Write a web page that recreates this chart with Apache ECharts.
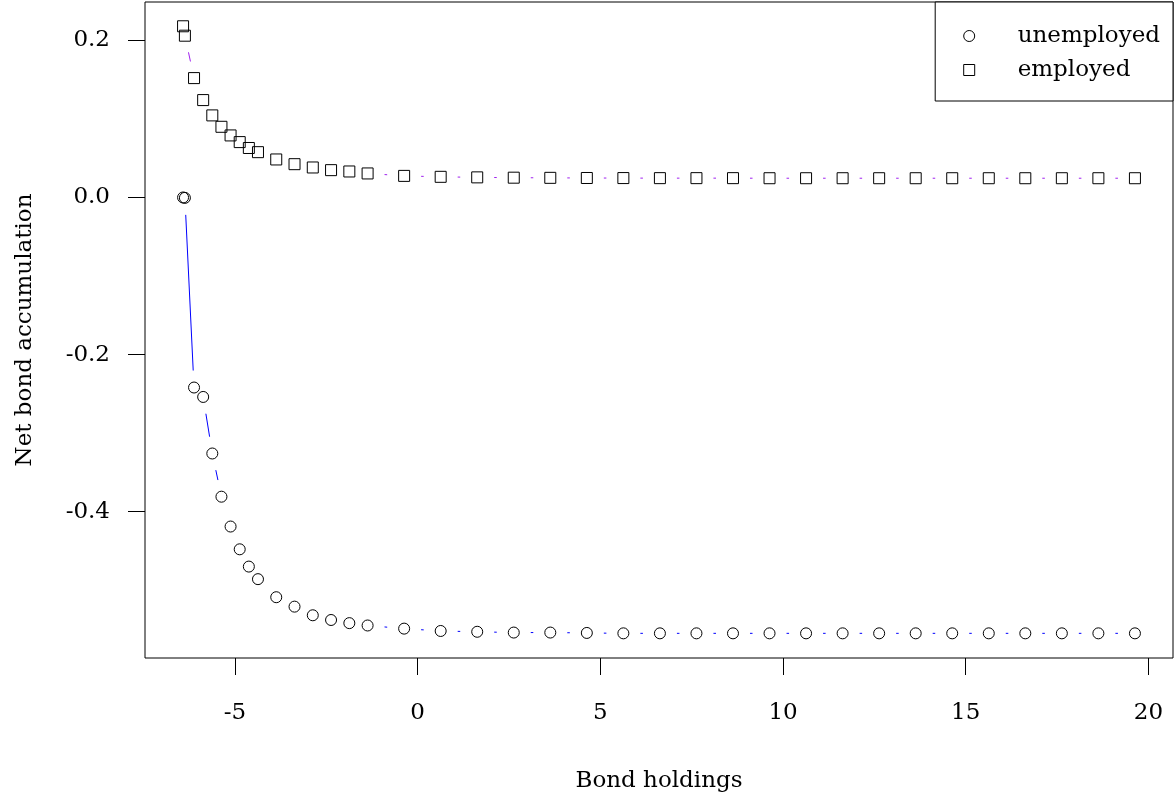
<!DOCTYPE html>
<html>
<head>
<meta charset="utf-8">
<script src="https://cdn.jsdelivr.net/npm/echarts@6/dist/echarts.min.js"></script>
<style>
html,body{margin:0;padding:0;background:#fff;}
#chart{width:1175px;height:800px;}
</style>
</head>
<body>
<div id="chart"></div>
<script>
// ---- data ----
const bondHoldings = [-6.42, -6.37, -6.12, -5.87, -5.62, -5.37, -5.12, -4.87, -4.62, -4.37,
  -3.87, -3.37, -2.87, -2.37, -1.87, -1.37, -0.37, 0.63, 1.63, 2.63, 3.63, 4.63, 5.63, 6.63,
  7.63, 8.63, 9.63, 10.63, 11.63, 12.63, 13.63, 14.63, 15.63, 16.63, 17.63, 18.63, 19.63];
const unemployed = [0.000, -0.0005, -0.242, -0.254, -0.326, -0.381, -0.419, -0.448, -0.470, -0.486,
  -0.509, -0.521, -0.532, -0.538, -0.542, -0.545, -0.549, -0.552, -0.553, -0.554, -0.554, -0.5545,
  -0.555, -0.555, -0.555, -0.555, -0.555, -0.555, -0.555, -0.555, -0.555, -0.555, -0.555, -0.555,
  -0.555, -0.555, -0.555];
const employed = [0.218, 0.206, 0.152, 0.124, 0.1045, 0.090, 0.079, 0.0705, 0.063, 0.0577,
  0.0484, 0.0424, 0.0382, 0.0348, 0.0331, 0.0306, 0.0275, 0.0263, 0.0256, 0.0252, 0.0250, 0.0248,
  0.0247, 0.0246, 0.0246, 0.0246, 0.0245, 0.0245, 0.0245, 0.0245, 0.0245, 0.0245, 0.0245, 0.0245,
  0.0245, 0.0245, 0.0245];
const seriesNames = ['unemployed', 'employed'];
const xTicks = [-5, 0, 5, 10, 15, 20];
const yTicks = [-0.4, -0.2, 0.0, 0.2];
const xTitle = 'Bond holdings';
const yTitle = 'Net bond accumulation';

// ---- build chart ----
const FONT = 'DejaVu Serif';
const FS = 23;
function points(xs, ys) { return xs.map((x, i) => [x, ys[i]]); }
function segments(xs, ys) {
  const out = [];
  for (let i = 0; i < xs.length - 1; i++) out.push([xs[i], ys[i], xs[i + 1], ys[i + 1]]);
  return out;
}
function gapLine(color) {
  const GAP = 17;
  return function (params, api) {
    const a = api.coord([api.value(0), api.value(1)]);
    const b = api.coord([api.value(2), api.value(3)]);
    const dx = b[0] - a[0], dy = b[1] - a[1];
    const d = Math.hypot(dx, dy);
    if (d <= 2 * GAP) return { type: 'group', children: [] };
    const ux = dx / d, uy = dy / d;
    return {
      type: 'line',
      shape: { x1: a[0] + ux * GAP, y1: a[1] + uy * GAP, x2: b[0] - ux * GAP, y2: b[1] - uy * GAP },
      style: { stroke: color, lineWidth: 1 }
    };
  };
}

const chart = echarts.init(document.getElementById('chart'), null, { renderer: 'canvas' });
const option = {
  backgroundColor: '#fff',
  animation: false,
  grid: { left: 145, right: 2, top: 2, bottom: 142, show: true, borderColor: '#000', borderWidth: 1, backgroundColor: 'transparent' },
  xAxis: {
    type: 'value', min: -7.462, max: 20.672,
    name: xTitle, nameLocation: 'middle', nameGap: 112,
    nameTextStyle: { fontFamily: FONT, fontSize: FS, color: '#000' },
    axisLine: { show: false, onZero: false },
    axisTick: { show: true, inside: false, length: 17, customValues: xTicks, lineStyle: { color: '#000', width: 1 } },
    axisLabel: { customValues: xTicks, margin: 44, fontFamily: FONT, fontSize: FS, color: '#000', formatter: v => String(v) },
    splitLine: { show: false }
  },
  yAxis: {
    type: 'value', min: -0.5864, max: 0.2489,
    name: yTitle, nameLocation: 'middle', nameGap: 108, nameRotate: 90,
    nameTextStyle: { fontFamily: FONT, fontSize: FS, color: '#000' },
    axisLine: { show: false, onZero: false },
    axisTick: { show: true, inside: false, length: 17, customValues: yTicks, lineStyle: { color: '#000', width: 1 } },
    axisLabel: { customValues: yTicks, margin: 35, fontFamily: FONT, fontSize: FS, color: '#000', formatter: v => v.toFixed(1) },
    splitLine: { show: false }
  },
  legend: {
    orient: 'vertical', top: 2, right: 2,
    padding: [17, 13, 14, 28],
    itemWidth: 11, itemHeight: 11, itemGap: 0,
    selectedMode: false,
    borderColor: '#000', borderWidth: 1, backgroundColor: '#fff',
    textStyle: { fontFamily: FONT, fontSize: FS, color: '#000', lineHeight: 34, padding: [0, 0, 0, 38] },
    itemStyle: { color: 'rgba(0,0,0,0)', borderColor: '#000', borderWidth: 1 },
    data: [
      { name: seriesNames[0], icon: 'circle' },
      { name: seriesNames[1], icon: 'rect' }
    ]
  },
  series: [
    {
      type: 'custom', name: seriesNames[0] + ' line', silent: true, clip: true,
      data: segments(bondHoldings, unemployed),
      encode: { x: [0, 2], y: [1, 3] },
      renderItem: gapLine('#0000FF')
    },
    {
      type: 'custom', name: seriesNames[1] + ' line', silent: true, clip: true,
      data: segments(bondHoldings, employed),
      encode: { x: [0, 2], y: [1, 3] },
      renderItem: gapLine('#A020F0')
    },
    {
      type: 'scatter', name: seriesNames[0], silent: true,
      data: points(bondHoldings, unemployed),
      symbol: 'circle', symbolSize: 11,
      itemStyle: { color: 'rgba(0,0,0,0)', borderColor: '#000', borderWidth: 1, opacity: 1 }
    },
    {
      type: 'scatter', name: seriesNames[1], silent: true,
      data: points(bondHoldings, employed),
      symbol: 'rect', symbolSize: 11,
      itemStyle: { color: 'rgba(0,0,0,0)', borderColor: '#000', borderWidth: 1, opacity: 1 }
    }
  ]
};
chart.setOption(option);
</script>
</body>
</html>
